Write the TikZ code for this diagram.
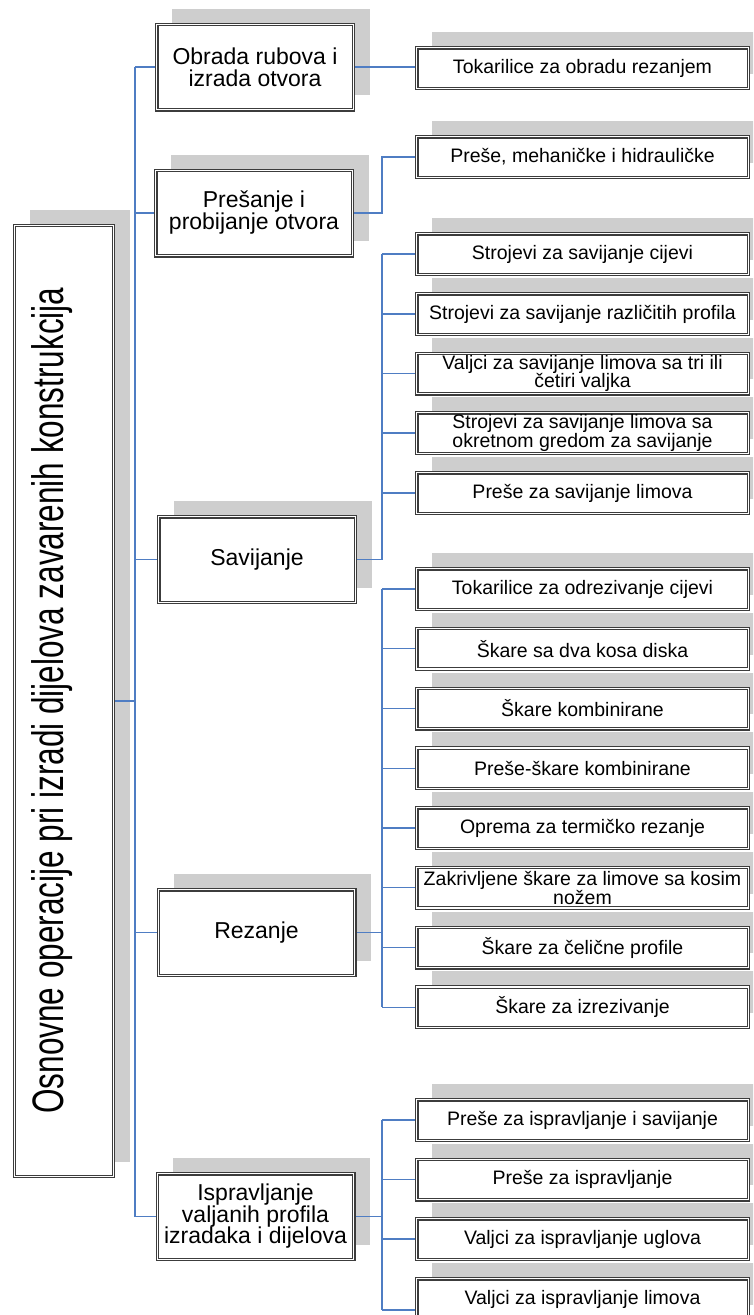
\documentclass[tikz,border=0pt]{standalone}
\usepackage{fontspec}
\setmainfont{Liberation Sans}
\pgfdeclarelayer{shadowlayer}
\pgfdeclarelayer{connlayer}
\pgfsetlayers{shadowlayer,connlayer,main}
\definecolor{shadowgray}{RGB}{206,206,206}
\definecolor{boxline}{RGB}{60,60,60}
\definecolor{connblue}{RGB}{79,125,195}
\begin{document}
\begin{tikzpicture}[x=1pt,y=-1pt,
  box/.style={draw=boxline, line width=1.1pt, double=white, double distance=1.3pt, fill=white, inner sep=0pt, align=center},
  leaf/.style={box, minimum width=331.5pt, minimum height=40.5pt, font=\fontsize{19.5}{18.5}\selectfont},
  mid/.style={box, minimum width=196.5pt, minimum height=85.5pt, font=\fontsize{23}{22}\selectfont},
  conn/.style={draw=connblue, line width=1.1pt},
  shade/.style={fill=shadowgray}]
\useasboundingbox (0,0) rectangle (753,1315);
\clip (0,0) rectangle (753,1315);

% main box
\node[box, minimum width=98.7pt, minimum height=950.7pt] (main) at (64,701) {};
\node[rotate=90, inner sep=0pt] (mainlbl) at (52,700.5) {\fontsize{31.5}{31.5}\selectfont\scalebox{1}[1.4]{Osnovne operacije pri izradi dijelova zavarenih konstrukcija}};

% level 1
\node[mid] (obr) at (255,67) {Obrada rubova i\\izrada otvora};
\node[mid] (pres) at (254,213) {Prešanje i\\probijanje otvora};
\node[mid] (sav) at (257,559.5) {Savijanje};
\node[mid] (rez) at (256.5,932.5) {Rezanje};
\node[mid, font=\fontsize{23}{21.5}\selectfont] (isp) at (255.5,1216.5) {Ispravljanje\\valjanih profila\\izradaka i dijelova};

% leaves
\node[leaf] (a1) at (582.5,68) {Tokarilice za obradu rezanjem};
\node[leaf] (b1) at (582.5,157) {Preše, mehaničke i hidrauličke};

\node[leaf] (s1) at (582.5,254) {Strojevi za savijanje cijevi};
\node[leaf] (s2) at (582.5,314) {Strojevi za savijanje različitih profila};
\node[leaf] (s3) at (582.5,373.5) {Valjci za savijanje limova sa tri ili\\četiri valjka};
\node[leaf] (s4) at (582.5,433) {Strojevi za savijanje limova sa\\okretnom gredom za savijanje};
\node[leaf] (s5) at (582.5,493) {Preše za savijanje limova};

\node[leaf] (r1) at (582.5,589) {Tokarilice za odrezivanje cijevi};
\node[leaf] (r2) at (582.5,648.75) {Škare sa dva kosa diska};
\node[leaf] (r3) at (582.5,708.5) {Škare kombinirane};
\node[leaf] (r4) at (582.5,768.25) {Preše-škare kombinirane};
\node[leaf] (r5) at (582.5,828) {Oprema za termičko rezanje};
\node[leaf] (r6) at (582.5,887.75) {Zakrivljene škare za limove sa kosim\\nožem};
\node[leaf] (r7) at (582.5,947.5) {Škare za čelične profile};
\node[leaf] (r8) at (582.5,1007.25) {Škare za izrezivanje};

\node[leaf] (i1) at (582.5,1120) {Preše za ispravljanje i savijanje};
\node[leaf] (i2) at (582.5,1179.5) {Preše za ispravljanje};
\node[leaf] (i3) at (582.5,1239) {Valjci za ispravljanje uglova};
\node[leaf] (i4) at (582.5,1299) {Valjci za ispravljanje limova};

% shadows
\begin{pgfonlayer}{shadowlayer}
\clip (0,0) rectangle (753,1315);
\foreach \n in {main,obr,pres,sav,rez,isp,a1,b1,s1,s2,s3,s4,s5,r1,r2,r3,r4,r5,r6,r7,r8,i1,i2,i3,i4}
  \fill[shade] ([xshift=16pt,yshift=15pt]\n.south west) rectangle ([xshift=16pt,yshift=15pt]\n.north east);
\end{pgfonlayer}

% connectors
\begin{pgfonlayer}{connlayer}
\clip (0,0) rectangle (753,1315);
\coordinate (T) at (135,0);
\coordinate (S) at (382,0);
\draw[conn] (main.east) -- (main.east -| T);
\draw[conn] (T |- obr.west) -- (T |- isp.west);
\foreach \n in {obr,pres,sav,rez,isp}
  \draw[conn] (T |- \n.west) -- (\n.west);
\draw[conn] (obr.east) -- (obr.east -| a1.west);
\draw[conn] (pres.east) -- (pres.east -| S) |- (b1.west);
% savijanje
\draw[conn] (sav.east) -- (sav.east -| S);
\draw[conn] (S |- s1.west) -- (S |- sav.east);
\foreach \n in {s1,s2,s3,s4,s5}
  \draw[conn] (S |- \n.west) -- (\n.west);
% rezanje
\draw[conn] (rez.east) -- (rez.east -| S);
\draw[conn] (S |- r1.west) -- (S |- r8.west);
\foreach \n in {r1,r2,r3,r4,r5,r6,r7,r8}
  \draw[conn] (S |- \n.west) -- (\n.west);
% ispravljanje
\coordinate (i4c) at ([yshift=-11pt]i4.west);
\draw[conn] (isp.east) -- (isp.east -| S);
\draw[conn] (S |- i1.west) -- (S |- i4c);
\foreach \n in {i1,i2,i3}
  \draw[conn] (S |- \n.west) -- (\n.west);
\draw[conn] (S |- i4c) -- (i4c);
\end{pgfonlayer}
\end{tikzpicture}
\end{document}
